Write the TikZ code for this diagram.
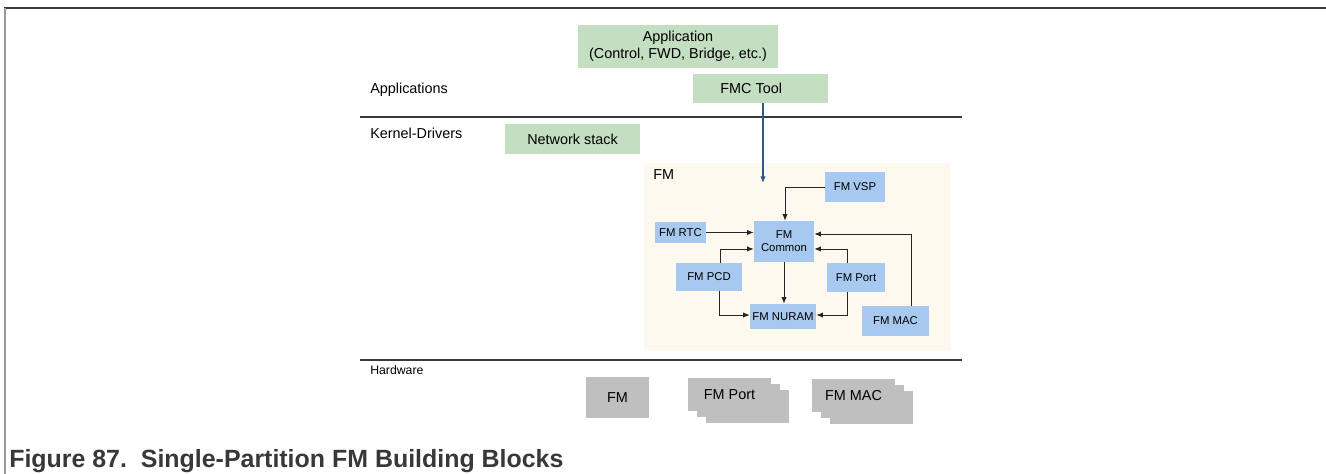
\documentclass[tikz,border=0pt]{standalone}
\usepackage{fontspec}
\setmainfont{Liberation Sans}
\usetikzlibrary{arrows.meta,shadows,positioning}
\definecolor{appgreen}{HTML}{C3DEC1}
\definecolor{fmblue}{HTML}{A7C9EF}
\definecolor{hwgray}{HTML}{BFBFBF}
\definecolor{fmcream}{HTML}{FEF9EE}
\definecolor{rulegray}{HTML}{3A3A3A}
\definecolor{toolline}{HTML}{2C5A84}

\begin{document}
\begin{tikzpicture}[
  x=0.75pt, y=-0.75pt,
  every node/.style={inner sep=0pt, font=\fontsize{10.8}{12.8}\selectfont},
  greenbox/.style={fill=appgreen, align=center},
  bluebox/.style={fill=fmblue, align=center, font=\fontsize{8.5}{9.8}\selectfont},
  hwbox/.style={fill=hwgray, minimum width=62.25pt, minimum height=24.75pt},
  hwstack/.style={hwbox,
    copy shadow={shadow xshift=13.5pt, shadow yshift=-9pt, fill=hwgray, draw=none},
    copy shadow={shadow xshift=6.75pt, shadow yshift=-4.5pt, fill=hwgray, draw=none}},
  layer/.style={anchor=west, font=\fontsize{10.8}{12.8}\selectfont},
  link/.style={draw=black!85, line width=0.7pt, -{Latex[length=5pt,width=4pt]}}
]
\useasboundingbox (0,0) rectangle (1326,474);
\draw[rulegray, line width=1.4pt] (4,8) -- (1326,8);
\draw[black!40, line width=1.4pt] (5,8) -- (5,474);

\draw[rulegray, line width=0.8pt] (360,117) -- (962,117);
\draw[rulegray, line width=0.8pt] (360,360) -- (962,360);

\node[layer] (lapps) at (370,90) {Applications};
\node[layer] (lkernel) at (370,133) {Kernel-Drivers};
\node[layer, font=\fontsize{9.2}{11}\selectfont] (lhw) at (370,370) {Hardware};

\node[greenbox, minimum width=150pt, minimum height=32.25pt] (app) at (678,46.5)
  {Application\\(Control, FWD, Bridge, etc.)};
\node[greenbox, minimum width=101.25pt, minimum height=21.75pt] (fmc) at (760.5,88.5) {FMC Tool\hspace{14pt}};
\node[greenbox, minimum width=101.25pt, minimum height=22.5pt] (netstack) at (572.5,139) {Network stack};

\node[fill=fmcream, minimum width=229.5pt, minimum height=141pt] (fmarea) at (797,257) {};
\node[anchor=west] (fmlabel) at (653,175) {FM};

\node[bluebox, minimum width=45pt, minimum height=22.5pt] (vsp) at (855,187) {FM VSP};
\node[bluebox, minimum width=45pt, minimum height=30.75pt] (common) at (784,241.5) {FM\\Common};
\node[bluebox, minimum width=38.25pt, minimum height=15.75pt] (rtc) at (680.5,232.5) {FM RTC};
\node[bluebox, minimum width=49.5pt, minimum height=21pt] (pcd) at (709,277) {FM PCD};
\node[bluebox, minimum width=43.5pt, minimum height=21.75pt] (port) at (856,277.5) {FM Port};
\node[bluebox, minimum width=49.5pt, minimum height=18.75pt] (nuram) at (783,316.5) {FM NURAM};
\node[bluebox, minimum width=50.25pt, minimum height=22.5pt] (mac) at (895.5,321) {FM MAC};

\coordinate (fmin) at (763,183);
\draw[toolline, line width=0.8pt, -{Latex[length=5pt,width=4pt]}] ([xshift=1.9pt]fmc.south) -- (fmc.south -| fmin) -- (fmin);

\draw[link] (vsp.west) -| ([xshift=0.75pt]common.north);
\draw[link] (rtc.east) -- (rtc.east -| common.west);
\draw[link] ([xshift=8.25pt]pcd.north) |- ([yshift=-5.6pt]common.west);
\draw[link] ([xshift=-6.75pt]port.north) |- ([yshift=-5.6pt]common.east);
\draw[link] ([xshift=11.6pt]mac.north) |- ([yshift=5.6pt]common.east);
\draw[link] (common.south) -- (common.south |- nuram.north);
\draw[link] ([xshift=7.5pt]pcd.south) |- ([yshift=1.1pt]nuram.west);
\draw[link] ([xshift=-6.75pt]port.south) |- ([yshift=1.1pt]nuram.east);

\node[hwbox, minimum width=47.25pt, minimum height=30.75pt] (hwfm) at (617.5,397.5) {FM};
\node[hwstack] (hwport) at (729.5,394.5) {FM Port};
\node[hwstack] (hwmac) at (853.5,395.5) {FM MAC};

\node[anchor=west, text=black!78, font=\fontsize{18.7}{20}\selectfont\bfseries] (caption) at (9,461)
  {Figure 87.~~Single-Partition FM Building Blocks};
\end{tikzpicture}
\end{document}
